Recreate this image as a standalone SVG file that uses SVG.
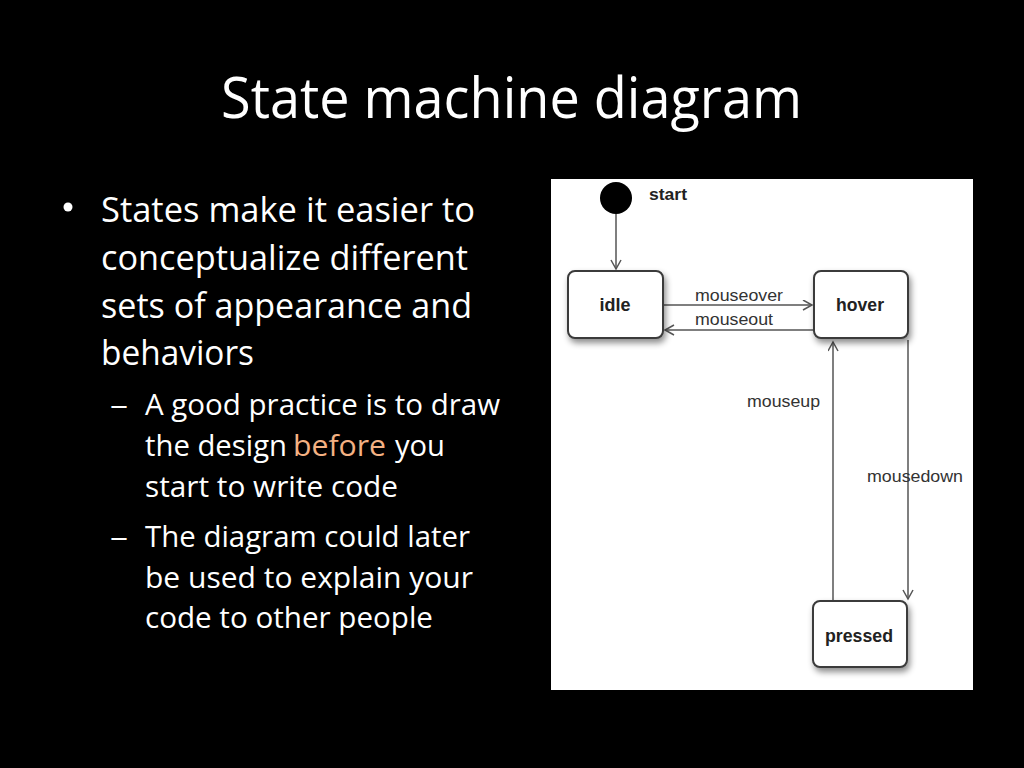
<svg xmlns="http://www.w3.org/2000/svg" width="1024" height="768" viewBox="0 0 1024 768">
  <style>
    .title { font-family: "Open Sans", "Liberation Sans", sans-serif; font-size: 56px; fill: #ffffff; }
    .body { font-family: "Open Sans", "Liberation Sans", sans-serif; font-size: 34px; fill: #ffffff; }
    .sub { font-family: "Open Sans", "Liberation Sans", sans-serif; font-size: 29px; fill: #ffffff; }
    .hl { fill: #f4b183; }
    .node { fill: #ffffff; stroke: #3a3a3a; stroke-width: 2; }
    .nlabel { font-family: "Liberation Sans", Arial, sans-serif; font-size: 18px; font-weight: bold; fill: #222222; text-anchor: middle; }
    .elabel { font-family: "Liberation Sans", Arial, sans-serif; font-size: 17px; fill: #333333; }
    .edge { stroke: #555555; stroke-width: 1.5; fill: none; marker-end: url(#arr); }
  </style>
  <defs>
    <marker id="arr" markerUnits="userSpaceOnUse" markerWidth="12" markerHeight="12" refX="10" refY="5.5" orient="auto">
      <path d="M1,0.5 L10,5.5 L1,10.5" fill="none" stroke="#555555" stroke-width="1.5"/>
    </marker>
    <filter id="shadow" x="-20%" y="-20%" width="150%" height="160%">
      <feDropShadow dx="2" dy="4" stdDeviation="3" flood-color="#000000" flood-opacity="0.45"/>
    </filter>
  </defs>

  <rect x="0" y="0" width="1024" height="768" fill="#000000"/>

  <text class="title" x="221" y="118" textLength="581" lengthAdjust="spacingAndGlyphs">State machine diagram</text>

  <g id="bullets">
    <circle cx="68" cy="207" r="4.5" fill="#ffffff"/>
    <text class="body" x="101" y="222" textLength="374" lengthAdjust="spacingAndGlyphs">States make it easier to</text>
    <text class="body" x="101" y="270" textLength="367" lengthAdjust="spacingAndGlyphs">conceptualize different</text>
    <text class="body" x="101" y="318" textLength="371" lengthAdjust="spacingAndGlyphs">sets of appearance and</text>
    <text class="body" x="101" y="365" textLength="153" lengthAdjust="spacingAndGlyphs">behaviors</text>

    <text class="sub" x="110" y="415" textLength="18" lengthAdjust="spacingAndGlyphs">–</text>
    <text class="sub" x="145" y="415" textLength="355" lengthAdjust="spacingAndGlyphs">A good practice is to draw</text>
    <text class="sub" x="145" y="456" textLength="142" lengthAdjust="spacingAndGlyphs">the design</text>
    <text class="sub hl" x="293" y="456" textLength="93" lengthAdjust="spacingAndGlyphs">before</text>
    <text class="sub" x="395" y="456" textLength="50" lengthAdjust="spacingAndGlyphs">you</text>
    <text class="sub" x="145" y="497" textLength="253" lengthAdjust="spacingAndGlyphs">start to write code</text>

    <text class="sub" x="110" y="547" textLength="18" lengthAdjust="spacingAndGlyphs">–</text>
    <text class="sub" x="145" y="547" textLength="325" lengthAdjust="spacingAndGlyphs">The diagram could later</text>
    <text class="sub" x="145" y="588" textLength="328" lengthAdjust="spacingAndGlyphs">be used to explain your</text>
    <text class="sub" x="145" y="628" textLength="288" lengthAdjust="spacingAndGlyphs">code to other people</text>
  </g>

  <rect x="551" y="179" width="422" height="511" fill="#ffffff"/>

  <g id="connectors">
    <line class="edge" x1="616" y1="214" x2="616" y2="269"/>
    <line class="edge" x1="664" y1="305" x2="812" y2="305"/>
    <line class="edge" x1="813" y1="330" x2="665" y2="330"/>
    <line class="edge" x1="833" y1="601" x2="833" y2="342"/>
    <line class="edge" x1="908" y1="340" x2="908" y2="599"/>
    <text class="elabel" x="695" y="301" textLength="88" lengthAdjust="spacingAndGlyphs">mouseover</text>
    <text class="elabel" x="695" y="325" textLength="78" lengthAdjust="spacingAndGlyphs">mouseout</text>
    <text class="elabel" x="747" y="407" textLength="73" lengthAdjust="spacingAndGlyphs">mouseup</text>
    <text class="elabel" x="867" y="482" textLength="96" lengthAdjust="spacingAndGlyphs">mousedown</text>
  </g>

  <g id="start">
    <circle cx="616" cy="198" r="16" fill="#000000"/>
    <text class="nlabel" x="649" y="200" style="text-anchor:start;font-size:16px" textLength="38" lengthAdjust="spacingAndGlyphs">start</text>
  </g>

  <g id="idle">
    <rect class="node" x="568" y="271" width="95" height="67" rx="7" filter="url(#shadow)"/>
    <text class="nlabel" x="615" y="311" textLength="31" lengthAdjust="spacingAndGlyphs">idle</text>
  </g>

  <g id="hover">
    <rect class="node" x="814" y="271" width="94" height="67" rx="7" filter="url(#shadow)"/>
    <text class="nlabel" x="860" y="311" textLength="48" lengthAdjust="spacingAndGlyphs">hover</text>
  </g>

  <g id="pressed">
    <rect class="node" x="813" y="601" width="94" height="66" rx="7" filter="url(#shadow)"/>
    <text class="nlabel" x="859" y="642" textLength="68" lengthAdjust="spacingAndGlyphs">pressed</text>
  </g>
</svg>
